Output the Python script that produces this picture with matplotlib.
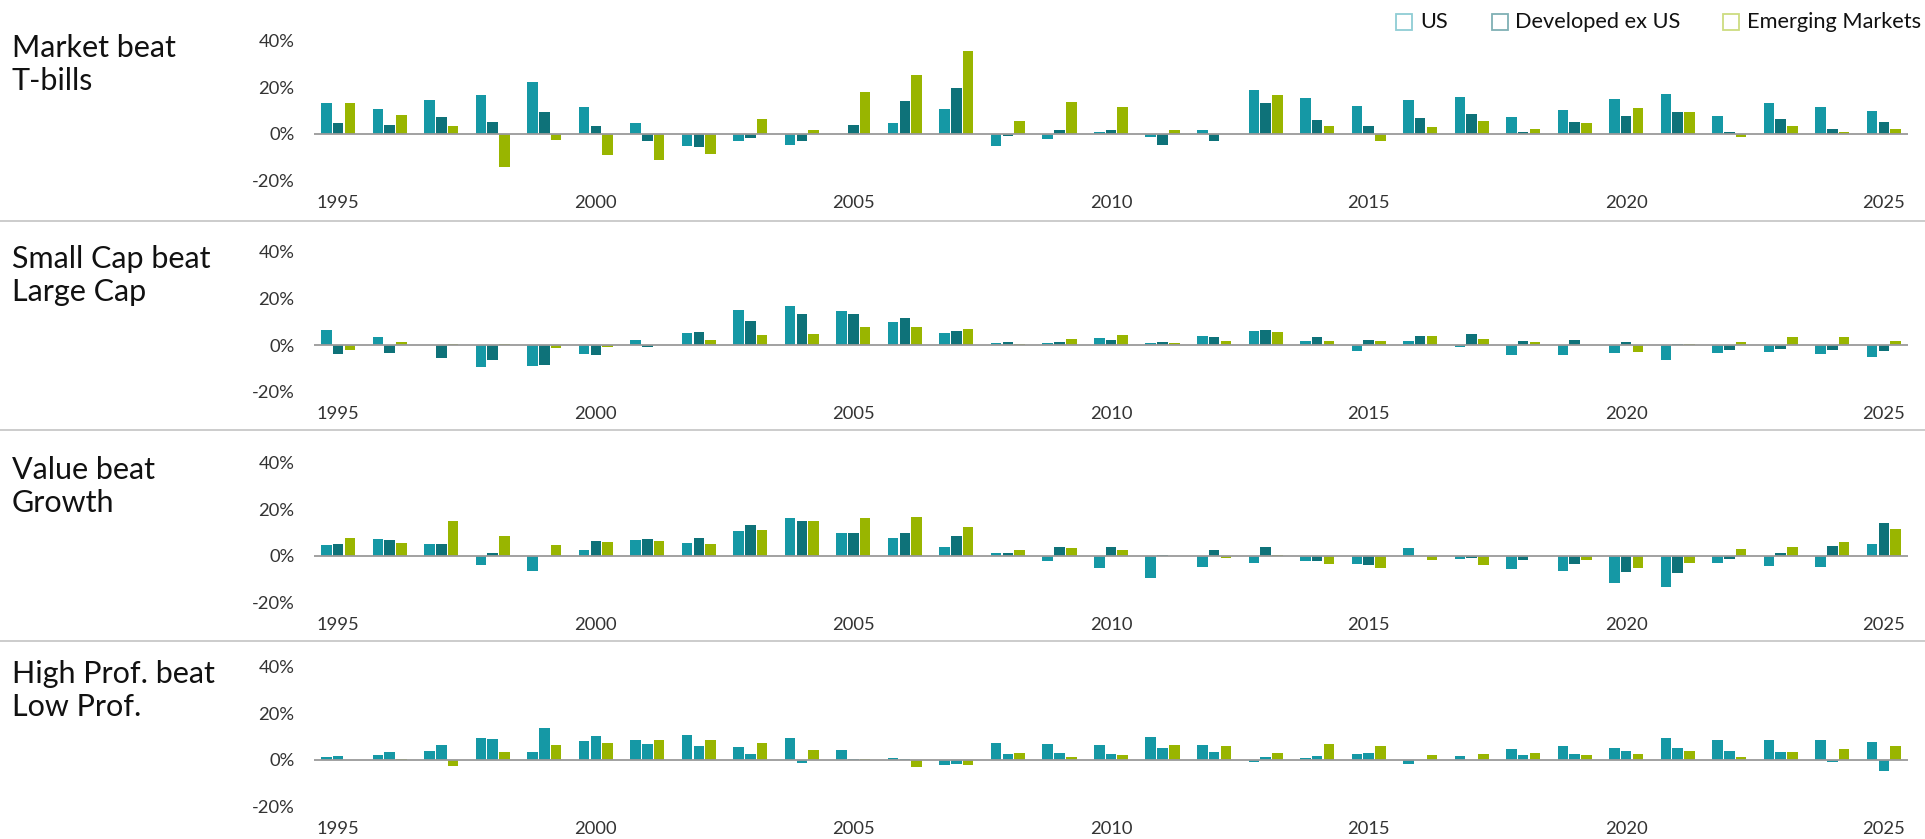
import numpy as np
import matplotlib.pyplot as plt
from matplotlib.lines import Line2D

plt.rcParams['font.family'] = ['Lato', 'DejaVu Sans']

years = np.arange(1995, 2026)
series_names = ['US', 'Developed ex US', 'Emerging Markets']
panel_titles = ['Market beat\nT-bills', 'Small Cap beat\nLarge Cap',
                'Value beat\nGrowth', 'High Prof. beat\nLow Prof.']

# premium, % per year
market_us = [13.3, 10.7, 14.6, 16.7, 22.3, 11.6, 4.7, -5.1, -3.0, -4.7, 0.2, 4.7, 10.7, -5.1, -2.1, 0.9,
             -1.3, 1.7, 18.9, 15.4, 12.0, 14.6, 15.9, 7.3, 10.3, 15.0, 17.1, 7.7, 13.3, 11.6, 9.9]
market_dev = [4.7, 3.9, 7.3, 5.1, 9.4, 3.4, -3.0, -5.6, -1.7, -3.0, 3.9, 14.1, 19.7, -0.9, 1.7, 1.7,
              -4.7, -3.0, 13.3, 6.0, 3.4, 6.9, 8.6, 0.9, 5.1, 7.7, 9.4, 0.9, 6.4, 2.1, 5.1]
market_em = [13.3, 8.1, 3.4, -14.1, -2.6, -9.0, -11.1, -8.6, 6.4, 1.7, 18.0, 25.3, 35.6, 5.6, 13.7, 11.6,
             1.7, 0.1, 16.7, 3.4, -3.0, 3.0, 5.6, 2.1, 4.7, 11.1, 9.4, -1.3, 3.4, 0.9, 2.1]

size_us = [6.6, 3.6, 0.0, -9.3, -8.9, -3.7, 2.3, 5.3, 15.1, 16.9, 14.7, 10.0, 5.3, 1.0, 1.0, 3.1,
           1.0, 4.0, 6.1, 1.9, -2.4, 1.9, -0.7, -4.1, -4.1, -3.3, -6.3, -3.3, -2.9, -3.7, -5.0]
size_dev = [-3.7, -3.3, -5.4, -6.3, -8.4, -4.1, -0.7, 5.7, 10.4, 13.4, 13.4, 11.7, 6.1, 1.4, 1.4, 2.3,
            1.4, 3.6, 6.6, 3.6, 2.3, 4.0, 4.9, 1.9, 2.3, 1.4, 0.6, -2.0, -1.6, -2.0, -2.4]
size_em = [-2.0, 1.4, 0.6, 0.6, -1.1, -0.7, 0.1, 2.3, 4.4, 4.9, 7.9, 7.9, 7.0, 0.6, 2.7, 4.4,
           1.0, 1.9, 5.7, 1.9, 1.9, 4.0, 2.7, 1.4, 0.1, -2.9, 0.6, 1.4, 3.6, 3.6, 1.9]

value_us = [4.9, 7.4, 5.3, -3.7, -6.3, 2.7, 7.0, 5.7, 10.9, 16.4, 10.0, 7.9, 4.0, 1.4, -2.0, -5.0,
            -9.3, -4.6, -2.9, -2.0, -3.3, 3.6, -1.1, -5.4, -6.3, -11.4, -13.1, -2.9, -4.1, -4.6, 5.3]
value_dev = [5.3, 7.0, 5.3, 1.4, -0.2, 6.6, 7.4, 7.9, 13.4, 15.1, 10.0, 10.0, 8.7, 1.4, 4.0, 4.0,
             0.6, 2.7, 4.0, -2.0, -3.7, 0.1, -0.7, -1.6, -3.3, -6.7, -7.1, -1.1, 1.4, 4.4, 14.3]
value_em = [7.9, 5.7, 15.1, 8.7, 4.9, 6.1, 6.6, 5.3, 11.3, 15.1, 16.4, 16.9, 12.6, 2.7, 3.6, 2.7,
            0.1, -0.7, 0.4, -3.3, -5.0, -1.6, -3.7, 0.1, -1.6, -5.0, -2.9, 3.1, 4.0, 6.1, 11.7]

prof_us = [1.4, 2.3, 4.0, 9.6, 3.6, 8.3, 8.7, 10.9, 5.7, 9.6, 4.4, 1.0, -2.0, 7.4, 7.0, 6.6,
           10.0, 6.6, -0.7, 1.0, 2.7, -1.6, 1.9, 4.9, 6.1, 5.3, 9.6, 8.7, 8.7, 8.7, 7.9]
prof_dev = [1.9, 3.6, 6.6, 9.1, 13.9, 10.4, 7.0, 6.1, 2.7, -1.1, 0.6, 0.6, -1.6, 2.7, 3.1, 2.7,
            5.3, 3.6, 1.4, 1.9, 3.1, 0.1, 0.1, 2.3, 2.7, 4.0, 5.3, 4.0, 3.6, -0.7, -4.6]
prof_em = [0.1, 0.6, -2.4, 3.6, 6.6, 7.4, 8.7, 8.7, 7.4, 4.4, 0.6, -2.9, -2.0, 3.1, 1.4, 2.3,
           6.6, 6.1, 3.1, 7.0, 6.1, 2.3, 2.7, 3.1, 2.3, 2.7, 4.0, 1.4, 3.6, 4.9, 6.1]

panels = [(market_us, market_dev, market_em),
          (size_us, size_dev, size_em),
          (value_us, value_dev, value_em),
          (prof_us, prof_dev, prof_em)]

c_us = '#1598a5'
c_dev = '#0e7279'
c_em = '#99b500'
panel_colors = [[c_us, c_dev, c_em]] * 3 + [[c_us, c_us, c_em]]

W, H = 1925, 839
fig = plt.figure(figsize=(W / 100, H / 100), dpi=100)

zero_px = [134, 345, 556, 760]
px_pct = 2.333
y_lo, y_hi = -25, 45
ax_left, ax_right = 314, 1908

offsets = [-0.228, 0.0, 0.228]

for i, data in enumerate(panels):
    z = zero_px[i]
    top = z - y_hi * px_pct
    h = (y_hi - y_lo) * px_pct
    ax = fig.add_axes([ax_left / W, 1 - (top + h) / H, (ax_right - ax_left) / W, h / H])
    for vals, off, col in zip(data, offsets, panel_colors[i]):
        ax.bar(years + off, vals, width=0.205, color=col, zorder=2)
    ax.axhline(0, color='#9a9a9a', lw=1.3, zorder=3)
    ax.set_xlim(1994.53, 2025.47)
    ax.set_ylim(y_lo, y_hi)
    ax.set_yticks([-20, 0, 20, 40])
    ax.set_yticklabels(['-20%', '0%', '20%', '40%'])
    ax.set_xticks(np.arange(1995, 2026, 5))
    ax.tick_params(axis='y', length=0, pad=14, labelsize=13.2, labelcolor='#333333')
    ax.tick_params(axis='x', length=0, pad=2, labelsize=13.2, labelcolor='#333333')
    for s in ax.spines.values():
        s.set_visible(False)
    ax.patch.set_alpha(0)
    fig.text(12 / W, 1 - (z - 100) / H, panel_titles[i], fontsize=22, color='#111111',
             ha='left', va='top', linespacing=1.22)

for y in [221, 430, 641]:
    fig.add_artist(Line2D([0, 1], [1 - y / H, 1 - y / H], transform=fig.transFigure,
                          color='#c8c8c8', lw=1.3))

# legend, drawn by hand to match the spacing of the original
legend_edges = ['#8fcdd4', '#7fb0b4', '#cddc80']
box_x = [1404, 1500, 1731]
text_x = [1420, 1515, 1747]
ly = 1 - 22 / H
for name, ec, bx, tx in zip(series_names, legend_edges, box_x, text_x):
    fig.add_artist(Line2D([bx / W], [ly], transform=fig.transFigure, marker='s', ls='none',
                          markersize=11, markerfacecolor='none', markeredgecolor=ec,
                          markeredgewidth=1.3))
    fig.text(tx / W, ly, name, fontsize=15.7, color='#111111', ha='left', va='center')

fig.savefig('out.png', dpi=100)
